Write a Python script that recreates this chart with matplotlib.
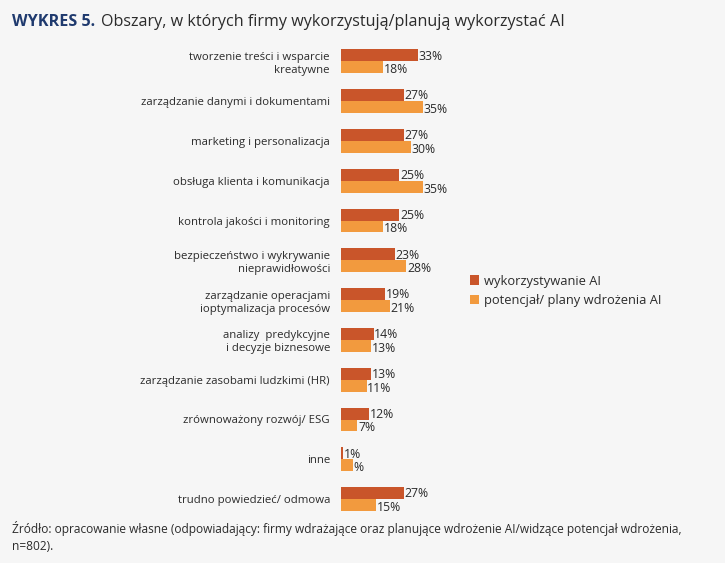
import matplotlib.pyplot as plt

plt.rcParams['font.family'] = ['Open Sans', 'DejaVu Sans']

categories = [
    "tworzenie treści i wsparcie\nkreatywne",
    "zarządzanie danymi i dokumentami",
    "marketing i personalizacja",
    "obsługa klienta i komunikacja",
    "kontrola jakości i monitoring",
    "bezpieczeństwo i wykrywanie\nnieprawidłowości",
    "zarządzanie operacjami\nioptymalizacja procesów",
    "analizy  predykcyjne\ni decyzje biznesowe",
    "zarządzanie zasobami ludzkimi (HR)",
    "zrównoważony rozwój/ ESG",
    "inne",
    "trudno powiedzieć/ odmowa",
]
using_ai = [33, 27, 27, 25, 25, 23, 19, 14, 13, 12, 1, 27]
planned_ai = [18, 35, 30, 35, 18, 28, 21, 13, 11, 7, 5, 15]
using_labels = [f"{v}%" for v in using_ai]
planned_labels = [f"{v}%" for v in planned_ai]
planned_labels[10] = "%"

series_names = ["wykorzystywanie AI", "potencjał/ plany wdrożenia AI"]
c_dark = "#c9552a"
c_light = "#f29a3e"
bg = "#f6f6f6"
txt = "#2b2b2b"

fig = plt.figure(figsize=(7.25, 5.63), dpi=100, facecolor=bg)
ax = fig.add_axes([341 / 725, 1 - 519 / 563, (2.33 * 40) / 725, 477.6 / 563])
ax.set_facecolor(bg)

h = 0.30
ys = list(range(len(categories)))
ax.barh([y - h / 2 for y in ys], using_ai, height=h, color=c_dark, label=series_names[0])
ax.barh([y + h / 2 for y in ys], planned_ai, height=h, color=c_light, label=series_names[1])

for y, v, lab in zip(ys, using_ai, using_labels):
    ax.text(v + 0.3, y - h / 2 + 0.02, lab, va="center", ha="left", fontsize=8.8, color=txt)
for y, v, lab in zip(ys, planned_ai, planned_labels):
    ax.text(v + 0.3, y + h / 2 + 0.06, lab, va="center", ha="left", fontsize=8.8, color=txt)

ax.set_xlim(0, 40)
ax.set_ylim(len(categories) - 0.5, -0.5)
ax.set_yticks(ys)
ax.set_yticklabels(categories, fontsize=8.2, color=txt, linespacing=1.25)
ax.tick_params(axis="y", length=0, pad=8)
ax.set_xticks([])
for s in ax.spines.values():
    s.set_visible(False)

fig.legend(loc="upper left", bbox_to_anchor=(458 / 725, 1 - 263 / 563), frameon=False,
           fontsize=9.3, handlelength=0.75, handleheight=0.75, handletextpad=0.4,
           labelspacing=0.5, labelcolor=txt)

fig.text(12 / 725, 1 - 22 / 563, "WYKRES 5.", fontsize=11.6, fontweight="bold",
         color="#1f3a6e", va="center")
fig.text(101 / 725, 1 - 22 / 563, "Obszary, w których firmy wykorzystują/planują wykorzystać AI",
         fontsize=11.6, color=txt, va="center")
fig.text(12 / 725, 1 - 537 / 563,
         "Źródło: opracowanie własne (odpowiadający: firmy wdrażające oraz planujące wdrożenie AI/widzące potencjał wdrożenia,\nn=802).",
         fontsize=8.6, color=txt, va="center", linespacing=1.3)

fig.savefig("out.png", dpi=100, facecolor=bg)
